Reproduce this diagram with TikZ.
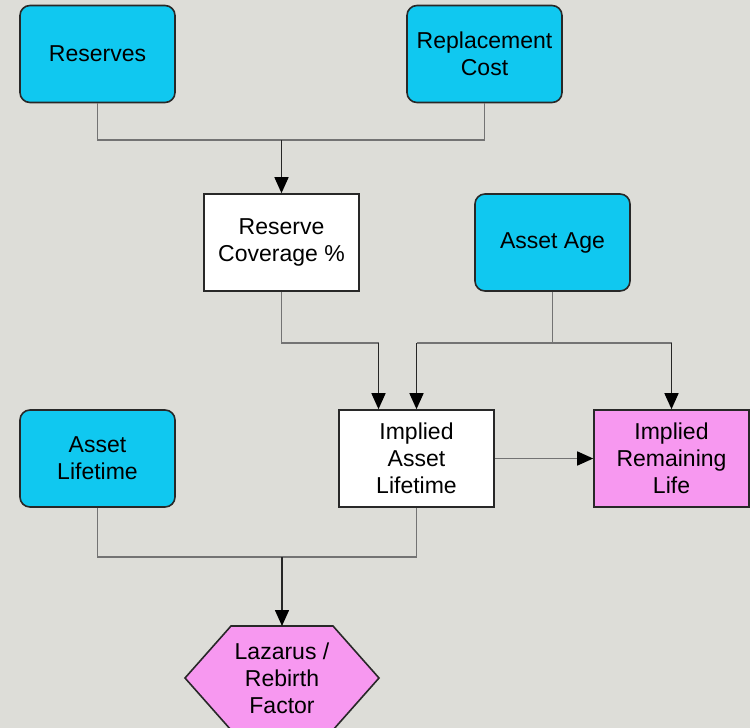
\documentclass[tikz,border=0pt]{standalone}
\usepackage{fontspec}
\setmainfont{Liberation Sans}
\usetikzlibrary{arrows.meta}

\definecolor{bggray}{RGB}{221,221,216}
\definecolor{inputcyan}{RGB}{16,200,240}
\definecolor{outpink}{RGB}{247,152,240}
\definecolor{edgedark}{RGB}{40,40,40}
\definecolor{linkgray}{RGB}{115,115,115}

\tikzset{
  nodebox/.style={draw=edgedark, line width=1.6pt, minimum width=155pt,
    minimum height=97pt, inner sep=0pt, align=center,
    font=\fontsize{23}{27}\selectfont},
  inbox/.style={nodebox, fill=inputcyan, rounded corners=10pt},
  calcbox/.style={nodebox, fill=white},
  outbox/.style={nodebox, fill=outpink},
  hexbox/.style={draw=edgedark, line width=1.6pt, fill=outpink},
  link/.style={draw=linkgray, line width=1.5pt},
  feed/.style={draw=black!85, line width=1.5pt,
    -{Triangle[length=16pt,width=14pt,color=black]}},
}

\begin{document}
\begin{tikzpicture}[x=1pt,y=-1pt]
  \clip (0,0) rectangle (750,728);
  \fill[bggray] (0,0) rectangle (750,728);

  % inputs and calculations
  \node[inbox] (res) at (97.5,54) {Reserves};
  \node[inbox] (rep) at (484.5,54) {Replacement\\Cost};
  \node[calcbox] (cov) at (281.5,242.5) {Reserve\\Coverage \%};
  \node[inbox] (age) at (552.5,242.5) {Asset Age};
  \node[inbox] (life) at (97.5,458.5) {Asset\\Lifetime};
  \node[calcbox] (impl) at (416.5,458.5) {Implied\\Asset\\Lifetime};
  \node[outbox] (rem) at (671.5,458.5) {Implied\\Remaining\\Life};

  % lazarus hexagon
  \draw[hexbox] (185,678) -- (231,626) -- (333,626) -- (379,678)
    -- (333,730) -- (231,730) -- cycle;
  \node[font=\fontsize{23}{27}\selectfont, align=center, inner sep=0pt]
    (laz) at (282,678) {Lazarus /\\Rebirth\\Factor};
  \coordinate (laztop) at (laz.center |- 0,626);

  % reserves + replacement cost
  \coordinate (topbar) at (cov.north |- 0,140);
  \draw[link] (res.south) |- (topbar) -| (rep.south);
  \draw[feed] (topbar) -- (cov.north);

  % coverage into implied lifetime
  \coordinate (covturn) at ([xshift=-38pt]impl.north |- 0,343);
  \draw[link] (cov.south) |- (covturn);
  \draw[feed] (covturn) -- (covturn |- impl.north);

  % asset age splits
  \coordinate (agemid) at (age.south |- 0,343);
  \draw[link] (age.south) -- (agemid);
  \draw[link] (impl.north |- agemid) -- (rem.north |- agemid);
  \draw[feed] (impl.north |- agemid) -- (impl.north);
  \draw[feed] (rem.north |- agemid) -- (rem.north);

  \draw[feed, draw=linkgray] (impl.east) -- (rem.west);

  % lifetimes into lazarus
  \coordinate (lowbar) at (laz.center |- 0,557);
  \draw[link] (life.south) |- (lowbar) -| (impl.south);
  \draw[feed] (lowbar) -- (laztop);
\end{tikzpicture}
\end{document}
